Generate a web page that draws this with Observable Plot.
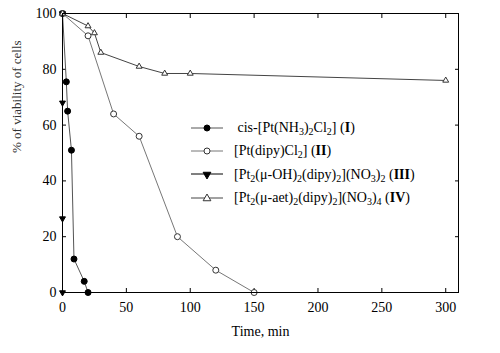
<!DOCTYPE html>
<html><head><meta charset="utf-8">
<script src="https://cdn.jsdelivr.net/npm/d3@7"></script>
<script src="https://cdn.jsdelivr.net/npm/@observablehq/plot@0.6"></script>
<style>
body{margin:0;background:#fff;}
#wrap{position:relative;width:500px;height:353px;font-family:"Liberation Serif",serif;}
#legend{position:absolute;left:190px;top:116px;font-size:14px;color:#000;line-height:23.3px;}
#legend .row{display:flex;align-items:center;height:23.3px;white-space:nowrap;}
#legend svg{margin-right:10px;}
sub{font-size:10px;vertical-align:-3px;line-height:0;}
</style></head>
<body><div id="wrap"></div>
<script>
// Data
const timeI = [0, 3, 4, 7, 9, 17, 20];
const viabI = [100, 75.5, 65, 51, 12, 4, 0];
const timeII = [0, 20, 40, 60, 90, 120, 150];
const viabII = [100, 92, 64, 56, 20, 8, 0];
const timeIII = [0, 0, 0, 0];
const viabIII = [100, 68, 26.5, 0];
const timeIV = [0, 20, 25, 30, 60, 80, 100, 300];
const viabIV = [100, 95.5, 93, 86, 81, 78.5, 78.5, 76];
const xTicks = [0, 50, 100, 150, 200, 250, 300];
const yTicks = [0, 20, 40, 60, 80, 100];
const seriesNames = [
  'cis-[Pt(NH<sub>3</sub>)<sub>2</sub>Cl<sub>2</sub>] (<b>I</b>)',
  '[Pt(dipy)Cl<sub>2</sub>] (<b>II</b>)',
  '[Pt<sub>2</sub>(μ-OH)<sub>2</sub>(dipy)<sub>2</sub>](NO<sub>3</sub>)<sub>2</sub> (<b>III</b>)',
  '[Pt<sub>2</sub>(μ-aet)<sub>2</sub>(dipy)<sub>2</sub>](NO<sub>3</sub>)<sub>4</sub> (<b>IV</b>)'
];

const FONT = "Liberation Serif";
const mk = (t, v) => t.map((x, i) => ({x, y: v[i]}));
const sI = mk(timeI, viabI), sII = mk(timeII, viabII), sIII = mk(timeIII, viabIII), sIV = mk(timeIV, viabIV);

const styles = [
  {line: "#555", fill: "#000", stroke: "#000", symbol: "circle", rotate: 0, r: 3},
  {line: "#777", fill: "#fff", stroke: "#333", symbol: "circle", rotate: 0, r: 3},
  {line: "#000", fill: "#000", stroke: "#000", symbol: "triangle", rotate: 180, r: 2.2},
  {line: "#444", fill: "#fff", stroke: "#333", symbol: "triangle", rotate: 0, r: 2.2}
];
const sets = [sI, sII, sIII, sIV];

const marks = [];
sets.forEach((s, i) => {
  const st = styles[i];
  marks.push(Plot.line(s, {x: "x", y: "y", stroke: st.line, strokeWidth: 1}));
});
sets.forEach((s, i) => {
  const st = styles[i];
  marks.push(Plot.dot(s, {x: "x", y: "y", symbol: () => st.symbol, r: st.r, fill: st.fill, stroke: st.stroke, strokeWidth: 1, rotate: st.rotate}));
});

const chart = Plot.plot({
  width: 500, height: 353,
  marginLeft: 62, marginRight: 42, marginTop: 13, marginBottom: 61,
  style: {fontSize: "14px", background: "#fff"},
  x: {domain: [0, 310]},
  y: {domain: [0, 100]},
  marks: [
    Plot.axisX({ticks: xTicks, tickSize: -4, tickPadding: 14, label: null, fontSize: 14, fontFamily: FONT}),
    Plot.axisX({anchor: "top", ticks: xTicks, tickSize: -4, tickFormat: () => "", label: null}),
    Plot.axisY({ticks: yTicks, tickSize: -4, tickPadding: 10, label: null, fontSize: 14, fontFamily: FONT}),
    Plot.axisY({anchor: "right", ticks: yTicks, tickSize: -4, tickFormat: () => "", label: null}),
    ...marks,
    Plot.frame({stroke: "#000", strokeWidth: 1}),
    Plot.text(["Time, min"], {frameAnchor: "bottom", dy: 43, text: d => d, fontSize: 14, fontFamily: FONT}),
    Plot.text(["% of viability of cells"], {frameAnchor: "left", dx: -46, rotate: -90, text: d => d, fontSize: 13, fill: "#333", fontFamily: FONT})
  ]
});
chart.setAttribute("font-family", "Liberation Serif, serif");
chart.querySelectorAll("text").forEach(t => {
  t.setAttribute("font-family", "Liberation Serif, serif");
  t.style.fontFamily = "'Liberation Serif', serif";
  t.style.fontWeight = "normal";
});
const wrap = document.getElementById("wrap");
wrap.appendChild(chart);

const leg = document.createElement("div");
leg.id = "legend";
styles.forEach((st, i) => {
  const row = document.createElement("div");
  row.className = "row";
  const sym = st.symbol === "circle"
    ? `<circle cx="17" cy="6" r="3" fill="${st.fill}" stroke="${st.stroke}"/>`
    : `<path d="${d3.symbol(d3.symbolTriangle, 26)()}" transform="translate(17,6.5) rotate(${st.rotate})" fill="${st.fill}" stroke="${st.stroke}"/>`;
  row.innerHTML = `<svg width="34" height="12"><line x1="1" x2="33" y1="6" y2="6" stroke="${st.line}"/>${sym}</svg><span>${i === 0 ? "&nbsp;" : ""}${seriesNames[i]}</span>`;
  leg.appendChild(row);
});
wrap.appendChild(leg);
</script></body></html>
